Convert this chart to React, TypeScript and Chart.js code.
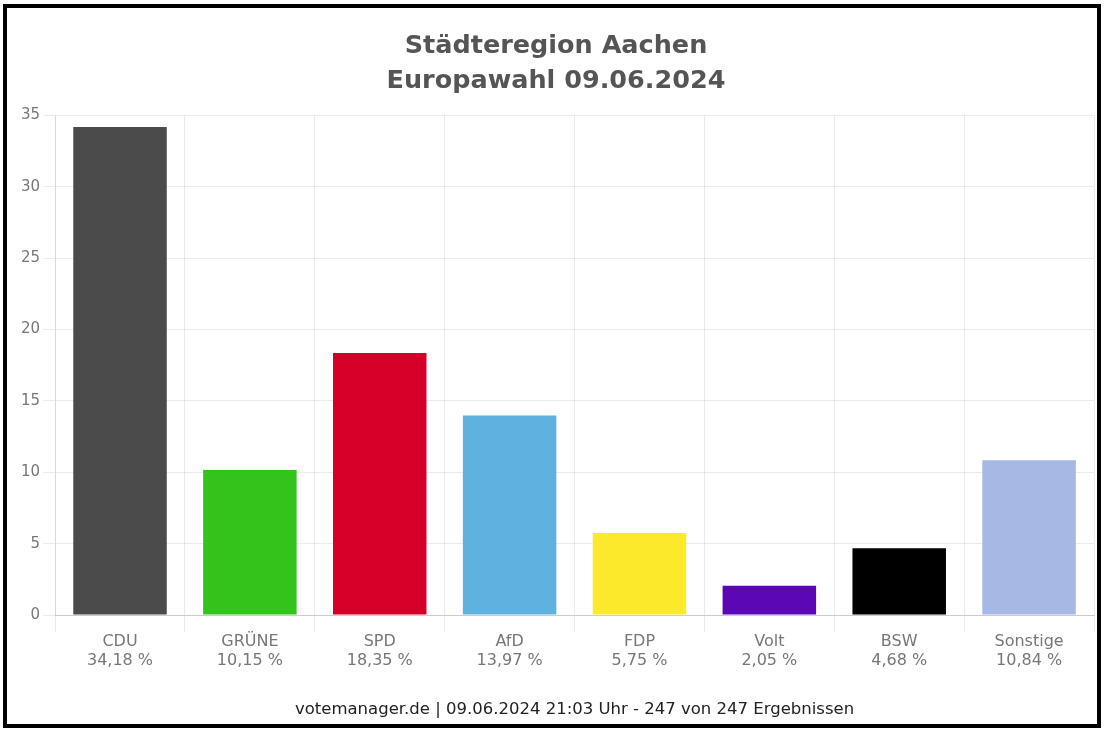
import React, { useEffect, useRef } from "react";
import { Chart, registerables } from "chart.js";

Chart.register(...registerables);

const parties = ["CDU", "GRÜNE", "SPD", "AfD", "FDP", "Volt", "BSW", "Sonstige"];
const shares = [34.18, 10.15, 18.35, 13.97, 5.75, 2.05, 4.68, 10.84];
const shareLabels = ["34,18 %", "10,15 %", "18,35 %", "13,97 %", "5,75 %", "2,05 %", "4,68 %", "10,84 %"];
const partyColors = ["#4b4b4b", "#33c41c", "#d4002a", "#5fb1e0", "#fde92c", "#5c07b6", "#000000", "#a6b8e3"];
const yTicks = [0, 5, 10, 15, 20, 25, 30, 35];
const titleLines = ["Städteregion Aachen", "Europawahl 09.06.2024"];
const footerText = "votemanager.de | 09.06.2024 21:03 Uhr - 247 von 247 Ergebnissen";

const FONT = "'DejaVu Sans', 'Liberation Sans', Arial, sans-serif";

const footerPlugin = {
  id: "footerText",
  afterDraw(chart: any, _args: any, opts: any) {
    const { ctx, chartArea } = chart;
    ctx.save();
    ctx.font = `${opts.size}px ${FONT}`;
    ctx.fillStyle = opts.color;
    ctx.textAlign = "center";
    ctx.textBaseline = "alphabetic";
    ctx.fillText(opts.text, (chartArea.left + chartArea.right) / 2, chart.height - opts.bottom);
    ctx.restore();
  },
};

export default function App() {
  const ref = useRef<HTMLCanvasElement | null>(null);

  useEffect(() => {
    if (!ref.current) return;
    const chart = new Chart(ref.current, {
      type: "bar",
      data: {
        labels: parties.map((p, i) => [p, shareLabels[i]]),
        datasets: [
          {
            data: shares,
            backgroundColor: partyColors,
            borderWidth: 0,
          },
        ],
      },
      options: {
        animation: false,
        responsive: true,
        maintainAspectRatio: false,
        layout: { padding: { left: 18, right: 14, top: 29, bottom: 58.6 } },
        plugins: {
          legend: { display: false },
          tooltip: { enabled: false },
          title: {
            display: true,
            text: titleLines,
            color: "#555555",
            font: { family: FONT, size: 25.5, weight: "bold", lineHeight: 1.37 },
            padding: { top: 0, bottom: 16.5 },
          },
          footerText: { text: footerText, size: 16.5, color: "#222222", bottom: 15 },
        } as any,
        scales: {
          x: {
            grid: { color: "rgba(0,0,0,0.08)", tickLength: 17, offset: true },
            border: { color: "#cccccc" },
            ticks: {
              color: "#777777",
              padding: 0,
              font: { family: FONT, size: 16, lineHeight: 1.2 },
              maxRotation: 0,
            },
          },
          y: {
            min: yTicks[0],
            max: yTicks[yTicks.length - 1],
            afterBuildTicks: (scale: any) => {
              scale.ticks = yTicks.map((v) => ({ value: v }));
            },
            grid: { color: "rgba(0,0,0,0.08)", tickLength: 12 },
            border: { color: "rgba(0,0,0,0.08)" },
            ticks: {
              color: "#777777",
              padding: 3,
              font: { family: FONT, size: 15 },
            },
          },
        },
      },
      plugins: [footerPlugin],
    });
    return () => chart.destroy();
  }, []);

  return (
    <div style={{ position: "absolute", left: 0, top: 0, width: 1108, height: 729, background: "#ffffff" }}>
      <canvas ref={ref} />
      <div
        style={{
          position: "absolute",
          left: 3,
          top: 4,
          width: 1098,
          height: 724,
          border: "4px solid #000000",
          boxSizing: "border-box",
          pointerEvents: "none",
        }}
      />
    </div>
  );
}
